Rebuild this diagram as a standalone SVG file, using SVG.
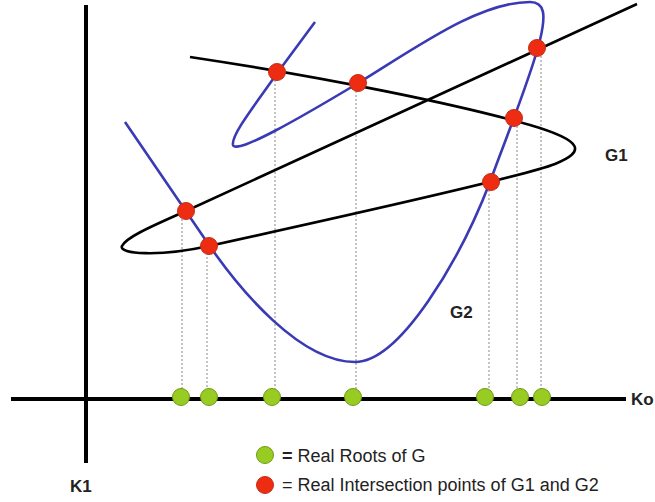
<svg xmlns="http://www.w3.org/2000/svg" width="655" height="502" viewBox="0 0 655 502">
<style>
.axis{stroke:#000;stroke-width:4;fill:none}
.g1{stroke:#000;stroke-width:2.6;fill:none;stroke-linejoin:round}
.g2{stroke:#3a3ab4;stroke-width:2.6;fill:none;stroke-linejoin:round}
.dot{stroke:#888;stroke-width:1;stroke-dasharray:2,2;fill:none}
.red{fill:#ee2c12;stroke:#c0301a;stroke-width:1}
.grn{fill:#99cc22;stroke:#6f9a1a;stroke-width:1}
.lbl{font-family:"Liberation Sans",Arial,sans-serif;font-weight:bold;font-size:17px;fill:#222}
.leg{font-family:"Liberation Sans",Arial,sans-serif;font-size:18px;fill:#222}
</style>
<rect width="655" height="502" fill="#fff"/>
<g id="axes">
<line class="axis" x1="86" y1="5" x2="86" y2="463"/>
<line class="axis" x1="11" y1="399" x2="626" y2="399"/>
</g>
<g id="connectors">
<line class="dot" x1="182" y1="211" x2="182" y2="392"/>
<line class="dot" x1="207" y1="245" x2="207" y2="392"/>
<line class="dot" x1="275" y1="72" x2="275" y2="392"/>
<line class="dot" x1="356" y1="83" x2="356" y2="392"/>
<line class="dot" x1="489" y1="182" x2="489" y2="392"/>
<line class="dot" x1="517" y1="118" x2="517" y2="392"/>
<line class="dot" x1="541" y1="48" x2="541" y2="392"/>
</g>
<g id="G2">
<path class="g2" d="M125,122 L209,245 C240,290 300,362 355,362 C400,362 460,260 490,182 C505,140 530,80 540,40 C546,15 545,2 530,2 C480,2 420,45 360,82 C300,118 236,155 233,145 C231,135 255,105 278,72 L315,22"/>
</g>
<g id="G1">
<path class="g1" d="M190,57 C330,78 460,105 530,125 C585,141 585,152 555,164 C525,176 300,226 209,246 C159,257 118,254 122,246 C126,238 145,229 186,211 L637,4"/>
</g>
<g id="intersections">
<circle class="red" cx="186" cy="211" r="8.5"/>
<circle class="red" cx="209" cy="246" r="8.5"/>
<circle class="red" cx="277" cy="72" r="8.5"/>
<circle class="red" cx="358" cy="83" r="8.5"/>
<circle class="red" cx="537" cy="48" r="8.5"/>
<circle class="red" cx="514" cy="118" r="8.5"/>
<circle class="red" cx="491" cy="182" r="8.5"/>
</g>
<g id="roots">
<circle class="grn" cx="181" cy="397" r="8.5"/>
<circle class="grn" cx="209" cy="397" r="8.5"/>
<circle class="grn" cx="272" cy="397" r="8.5"/>
<circle class="grn" cx="353" cy="397" r="8.5"/>
<circle class="grn" cx="485" cy="397" r="8.5"/>
<circle class="grn" cx="520" cy="397" r="8.5"/>
<circle class="grn" cx="542" cy="397" r="8.5"/>
</g>
<g id="labels">
<text class="lbl" x="605" y="161">G1</text>
<text class="lbl" x="450" y="318">G2</text>
<text class="lbl" x="631" y="405" font-size="16">Ko</text>
<text class="lbl" x="70" y="492">K1</text>
</g>
<g id="legend">
<circle class="grn" cx="265" cy="455" r="8.5"/>
<circle class="red" cx="265" cy="485" r="8.5"/>
<text class="leg" x="282" y="462"><tspan font-weight="bold">=</tspan> Real Roots of G</text>
<text class="leg" x="282" y="491">= Real Intersection points of G1 and G2</text>
</g>
</svg>
